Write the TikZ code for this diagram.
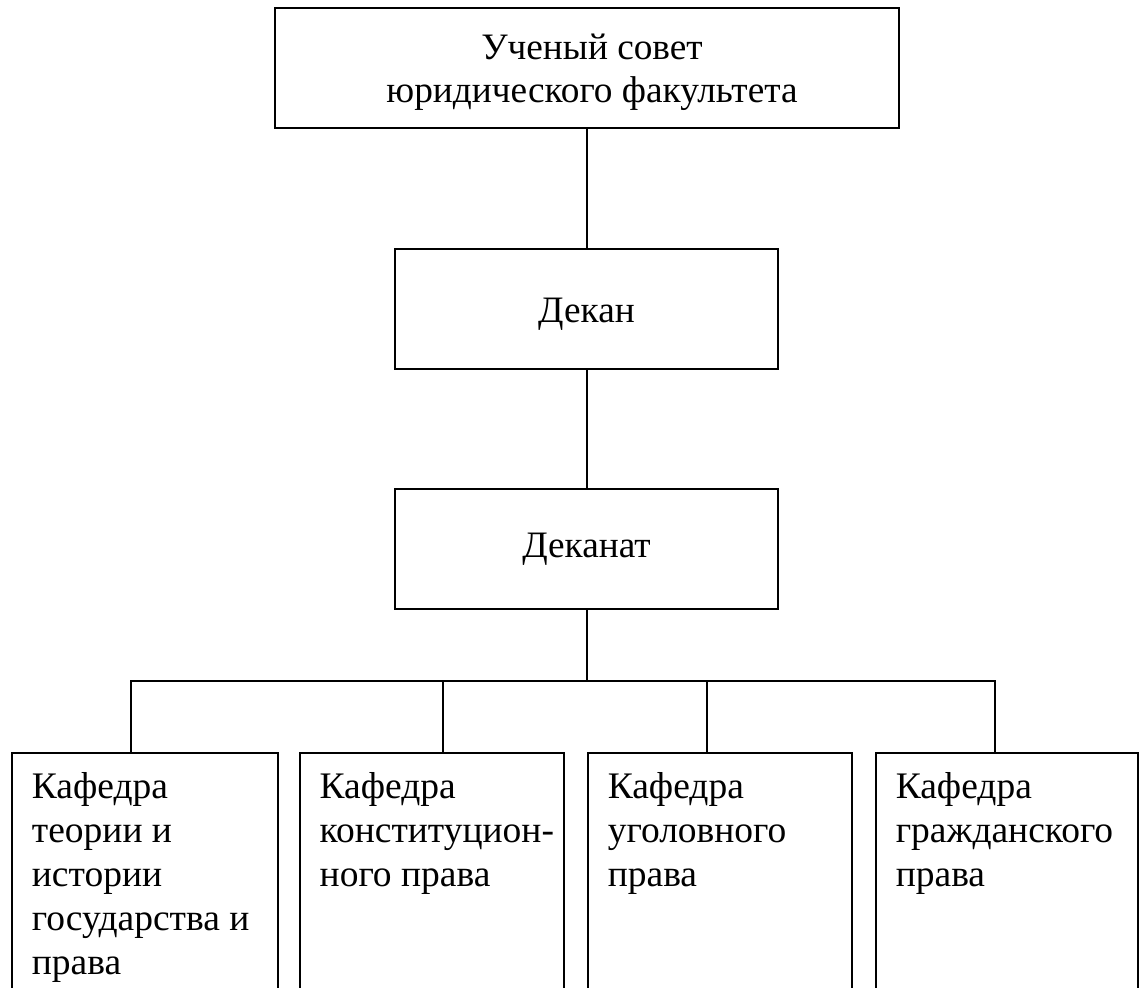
\documentclass[tikz,border=0pt]{standalone}
\usepackage{fontspec}
\setmainfont{Liberation Serif}
\tikzset{
  every picture/.style={x=1pt,y=-1pt},
  box/.style={draw, line width=2pt, inner sep=0pt, align=center,
    font=\fontsize{37.3}{43.7}\selectfont},
  deptbox/.style={draw, line width=2pt, inner sep=0pt, anchor=north west,
    minimum height=320pt},
  depttext/.style={inner sep=0pt, anchor=north west, align=left,
    font=\fontsize{37.5}{44}\selectfont},
  conn/.style={line width=2pt, line join=miter}
}
\begin{document}
\begin{tikzpicture}
\useasboundingbox (0,0) rectangle (1139,987);
\clip (0,0) rectangle (1139,987);
\fill[white] (0,0) rectangle (1139,987);

\node[box, minimum width=624pt, minimum height=119.4pt] (council) at (587,68)
  {\rule{0pt}{34pt}\hspace*{10pt}Ученый совет\\\hspace*{10pt}юридического факультета};
\node[box, minimum width=383pt, minimum height=120pt] (dean) at (586.5,309) {\rule{0pt}{34pt}Декан};
\node[box, minimum width=383pt, minimum height=120.6pt] (office) at (586.5,549) {Деканат};

\node[deptbox, minimum width=266.6pt] (b1) at (10.7,752.3) {};
\node[deptbox, minimum width=264.8pt] (b2) at (298.5,752.3) {};
\node[deptbox, minimum width=264.4pt] (b3) at (586.6,752.3) {};
\node[deptbox, minimum width=262.4pt] (b4) at (874.6,752.3) {};

\node[depttext] (t1) at ([xshift=21pt,yshift=-15pt]b1.north west)
  {\strut Кафедра\\теории и\\истории\\государства и\\права};
\node[depttext] (t2) at ([xshift=21pt,yshift=-15pt]b2.north west)
  {\strut Кафедра\\конституцион-\\ного права};
\node[depttext] (t3) at ([xshift=21pt,yshift=-15pt]b3.north west)
  {\strut Кафедра\\уголовного\\права};
\node[depttext] (t4) at ([xshift=21pt,yshift=-15pt]b4.north west)
  {\strut Кафедра\\гражданского\\права};

\coordinate (bus) at (587.3,680.7);
\coordinate (d1) at (130.7,680.7);
\coordinate (d2) at (443.3,680.7);
\coordinate (d3) at (707,680.7);
\coordinate (d4) at (995,680.7);

\draw[conn] (council.south -| bus) -- (dean.north -| bus);
\draw[conn] (dean.south -| bus) -- (office.north -| bus);
\draw[conn] (office.south -| bus) -- (bus);
\draw[conn] (d1 |- b1.north) -- (d1) -- (d4) -- (d4 |- b4.north);
\draw[conn] (d2) -- (d2 |- b2.north);
\draw[conn] (d3) -- (d3 |- b3.north);
\end{tikzpicture}
\end{document}
